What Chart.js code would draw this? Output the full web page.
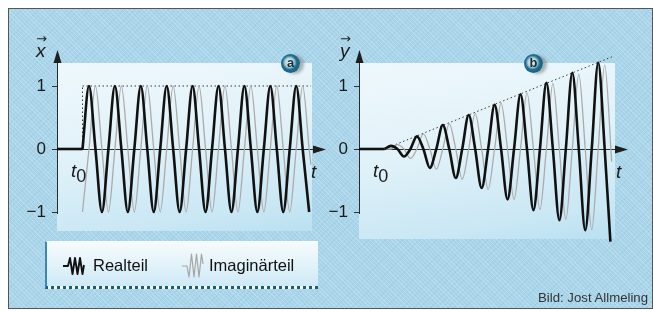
<!DOCTYPE html>
<html><head><meta charset="utf-8">
<script src="https://cdn.jsdelivr.net/npm/chart.js@4.4.1/dist/chart.umd.min.js"></script>
<style>
html,body{margin:0;padding:0;background:#fff;}
#wrap{position:relative;width:653px;height:311px;overflow:hidden;font-family:"Liberation Sans",Arial,sans-serif;color:#1a1a1a;}
#frame{position:absolute;left:8px;top:8px;width:645px;height:301px;box-sizing:border-box;border:1.5px solid #555;
  background-color:#a9d5ea;
  background-image:repeating-linear-gradient(45deg,rgba(255,255,255,0.18) 0 1px,transparent 1px 3px),repeating-linear-gradient(-45deg,rgba(60,120,160,0.08) 0 1px,transparent 1px 4px);}
.panel{position:absolute;background:linear-gradient(170deg,#eef8fc 0%,#e2f2f9 45%,#c9e7f4 85%,#b9e0f1 100%);}
#pa{left:57px;top:63px;width:255px;height:168px;}
#pb{left:359px;top:63px;width:256px;height:176px;}
canvas{position:absolute;left:0;top:0;}
.lbl{position:absolute;white-space:nowrap;}
.it{font-style:italic;}
.vec{position:absolute;font-style:italic;font-size:19px;line-height:19px;}
.vec .arr{position:absolute;left:0px;top:-12px;font-family:"DejaVu Sans",sans-serif;font-size:13px;font-style:normal;color:#222;}
.t0{font-size:19px;line-height:19px;}
.t0 sub{font-style:normal;font-size:18px;position:relative;top:5px;vertical-align:baseline;}
.badge{position:absolute;width:19px;height:19px;border-radius:50%;
  background:radial-gradient(circle at 45% 45%,#e4eff3 0%,#bcd3dc 30%,#1f6f90 48%,#0e4c6a 100%);
  box-shadow:4px 1px 3px rgba(120,120,120,0.55);font-weight:bold;font-size:13px;line-height:18px;text-align:center;color:#15303c;}
#legend{position:absolute;left:45px;top:241px;width:273px;height:48px;box-sizing:border-box;
  background:linear-gradient(180deg,#f6fbfd 0%,#e3f3fa 50%,#cde9f6 100%);
  border-left:2px solid #3d88b2;border-bottom:3px dotted #1c5a82;border-top:1px solid #fff;}
.leg{position:absolute;font-size:16.5px;line-height:17px;color:#111;}
#credit{position:absolute;right:5px;top:290px;font-size:13.2px;color:#333;}
</style></head>
<body><div id="wrap">
<div id="frame"></div>
<div class="panel" id="pa"></div>
<div class="panel" id="pb"></div>
<canvas id="ca" width="653" height="311"></canvas>
<canvas id="cb" width="653" height="311"></canvas>
<div class="vec" style="left:36px;top:41px;"><span class="arr">&#8594;</span>x</div>
<div class="vec" style="left:340px;top:41px;"><span class="arr">&#8594;</span>y</div>
<div class="lbl t0" style="left:71px;top:161px;"><span class="it">t</span><sub>0</sub></div>
<div class="lbl t0" style="left:373px;top:161px;"><span class="it">t</span><sub>0</sub></div>
<div class="lbl it" style="left:311px;top:161px;font-size:19px;">t</div>
<div class="lbl it" style="left:616px;top:161px;font-size:19px;">t</div>
<div class="badge" style="left:281px;top:54px;">a</div>
<div class="badge" style="left:524px;top:54px;">b</div>
<div id="legend">
  <svg style="position:absolute;left:15px;top:13px" width="28" height="22" viewBox="0 0 28 22">
    <polyline points="1,11 6,11 8,3 10.5,19 13,3 15.5,19 18,3 20.5,19 22,10" fill="none" stroke="#111" stroke-width="1.9" stroke-linejoin="round"/>
  </svg>
  <div class="leg" style="left:46px;top:15px;">Realteil</div>
  <svg style="position:absolute;left:134px;top:8px" width="28" height="32" viewBox="0 0 28 32">
    <polyline points="1,16 6,16 8,27 10.5,4 13,27 15.5,4 18,27 20.5,4 22,14" fill="none" stroke="#a6a6a6" stroke-width="1.2" stroke-linejoin="round"/>
  </svg>
  <div class="leg" style="left:162px;top:15px;">Imaginärteil</div>
</div>
<div id="credit">Bild: Jost Allmeling</div>
</div>
<script>
// ---- shared axis data ----
const tickValues = [-1, 0, 1];
const tickLabels = ['\u22121', '0', '1'];
const xMin = -0.985, xMax = 9.4;   // time in periods, t0 = 0
const yMin = -1.6, yMax = 1.6;

// ---- panel a: constant amplitude ----
const tLeadA = [-0.985, 0];
const leadA  = [0, 0];
const tRealA = [0,0.25,0.5,0.75,1,1.25,1.5,1.75,2,2.25,2.5,2.75,3,3.25,3.5,3.75,4,4.25,4.5,4.75,5,5.25,5.5,5.75,6,6.25,6.5,6.75,7,7.25,7.5,7.75,8,8.25,8.5,8.75];
const realA  = [0,1,0,-1,0,1,0,-1,0,1,0,-1,0,1,0,-1,0,1,0,-1,0,1,0,-1,0,1,0,-1,0,1,0,-1,0,1,0,-1];
const tImagA = [0,0.25,0.5,0.75,1,1.25,1.5,1.75,2,2.25,2.5,2.75,3,3.25,3.5,3.75,4,4.25,4.5,4.75,5,5.25,5.5,5.75,6,6.25,6.5,6.75,7,7.25,7.5,7.75,8,8.25,8.5,8.75,8.82];
const imagA  = [-1,0,1,0,-1,0,1,0,-1,0,1,0,-1,0,1,0,-1,0,1,0,-1,0,1,0,-1,0,1,0,-1,0,1,0,-1,0,1,0,-0.25];
const tEnvA = [0, 8.82];  const envA = [1, 1];
const tMarkA = [0, 0];    const markA = [0, 1];

// ---- panel b: linearly growing amplitude ----
const tLeadB = [-0.985, 0];
const leadB  = [0, 0];
const tRealB = [0,0.25,0.5,0.75,1,1.25,1.5,1.75,2,2.25,2.5,2.75,3,3.25,3.5,3.75,4,4.25,4.5,4.75,5,5.25,5.5,5.75,6,6.25,6.5,6.75,7,7.25,7.5,7.75,8,8.25,8.5,8.72];
const realB  = [0,0.05,0,-0.12,0,0.2,0,-0.3,0,0.38,0,-0.46,0,0.54,0,-0.62,0,0.7,0,-0.8,0,0.87,0,-0.97,0,1.05,0,-1.13,0,1.21,0,-1.29,0,1.37,0,-1.47];
const tImagB = [0,0.25,0.5,0.75,1,1.25,1.5,1.75,2,2.25,2.5,2.75,3,3.25,3.5,3.75,4,4.25,4.5,4.75,5,5.25,5.5,5.75,6,6.25,6.5,6.75,7,7.25,7.5,7.75,8,8.25,8.5,8.77];
const imagB  = [0,0,0.07,0,-0.15,0,0.24,0,-0.32,0,0.4,0,-0.48,0,0.56,0,-0.64,0,0.73,0,-0.8,0,0.89,0,-0.96,0,1.04,0,-1.12,0,1.19,0,-1.28,0,1.33,-0.2];
const tEnvB = [0, 8.82];  const envB = [0, 1.47];

const zip = (xs, ys) => xs.map((x, i) => ({x, y: ys[i]}));

const axisPlugin = {
  id: 'arrowAxes',
  beforeDatasetsDraw(chart) {
    const {ctx, chartArea, scales} = chart;
    const ax = scales.x.getPixelForValue(xMin);
    const y0 = scales.y.getPixelForValue(0);
    const yBot = scales.y.getPixelForValue(-1) + 2;
    const yTop = scales.y.getPixelForValue(1.57);
    const xTip = chartArea.right;
    ctx.save();
    ctx.strokeStyle = '#2a2a2a'; ctx.fillStyle = '#1e1e1e'; ctx.lineWidth = 1;
    ctx.beginPath(); ctx.moveTo(ax + 0.5, yBot); ctx.lineTo(ax + 0.5, yTop + 10); ctx.stroke();
    ctx.beginPath(); ctx.moveTo(ax + 0.5, yTop); ctx.lineTo(ax - 3.5, yTop + 13); ctx.lineTo(ax + 4.5, yTop + 13); ctx.closePath(); ctx.fill();
    ctx.beginPath(); ctx.moveTo(ax - 2, y0 + 0.5); ctx.lineTo(xTip - 10, y0 + 0.5); ctx.stroke();
    ctx.beginPath(); ctx.moveTo(xTip, y0 + 0.5); ctx.lineTo(xTip - 13, y0 - 3.5); ctx.lineTo(xTip - 13, y0 + 4.5); ctx.closePath(); ctx.fill();
    ctx.restore();
  }
};

function makeChart(id, padLeft, padRight, sets) {
  const ds = sets.map(s => Object.assign({
    pointRadius: 0, fill: false, clip: false, cubicInterpolationMode: 'monotone'
  }, s));
  return new Chart(document.getElementById(id), {
    type: 'line',
    data: {datasets: ds},
    options: {
      responsive: false, animation: false, devicePixelRatio: 1,
      layout: {padding: {left: padLeft, right: padRight, top: 149 - yMax * 63, bottom: 311 - (149 - yMin * 63)}},
      plugins: {legend: {display: false}, tooltip: {enabled: false}},
      scales: {
        x: {type: 'linear', min: xMin, max: xMax, display: false},
        y: {
          type: 'linear', min: yMin, max: yMax,
          afterFit(scale) { scale.width = 40; },
          afterBuildTicks(scale) { scale.ticks = tickValues.map(v => ({value: v})); },
          border: {display: false},
          grid: {drawOnChartArea: false, drawTicks: true, tickLength: 5, color: '#333', lineWidth: 1},
          ticks: {
            padding: 6, color: '#1a1a1a',
            font: {family: '"Liberation Sans", Arial, sans-serif', size: 17},
            callback: (v) => tickLabels[tickValues.indexOf(v)]
          }
        }
      }
    },
    plugins: [axisPlugin]
  });
}

const dotted = {borderColor: '#3a3a3a', borderWidth: 1, borderDash: [1.5, 2.5], cubicInterpolationMode: 'default', tension: 0};

makeChart('ca', 17, 327, [
  {label: 'Realteil', data: zip(tRealA, realA), borderColor: '#111', borderWidth: 2.6},
  {label: 'Vorlauf', data: zip(tLeadA, leadA), borderColor: '#111', borderWidth: 2.6},
  {label: 'Imaginärteil', data: zip(tImagA, imagA), borderColor: '#ababab', borderWidth: 1.3},
  Object.assign({label: 'Amplitude', data: zip(tEnvA, envA)}, dotted),
  Object.assign({label: 't0', data: zip(tMarkA, markA)}, dotted)
]);
makeChart('cb', 319, 25, [
  {label: 'Realteil', data: zip(tRealB, realB), borderColor: '#111', borderWidth: 2.6},
  {label: 'Vorlauf', data: zip(tLeadB, leadB), borderColor: '#111', borderWidth: 2.6},
  {label: 'Imaginärteil', data: zip(tImagB, imagB), borderColor: '#ababab', borderWidth: 1.3},
  Object.assign({label: 'Amplitude', data: zip(tEnvB, envB)}, dotted)
]);
</script>
</body></html>
